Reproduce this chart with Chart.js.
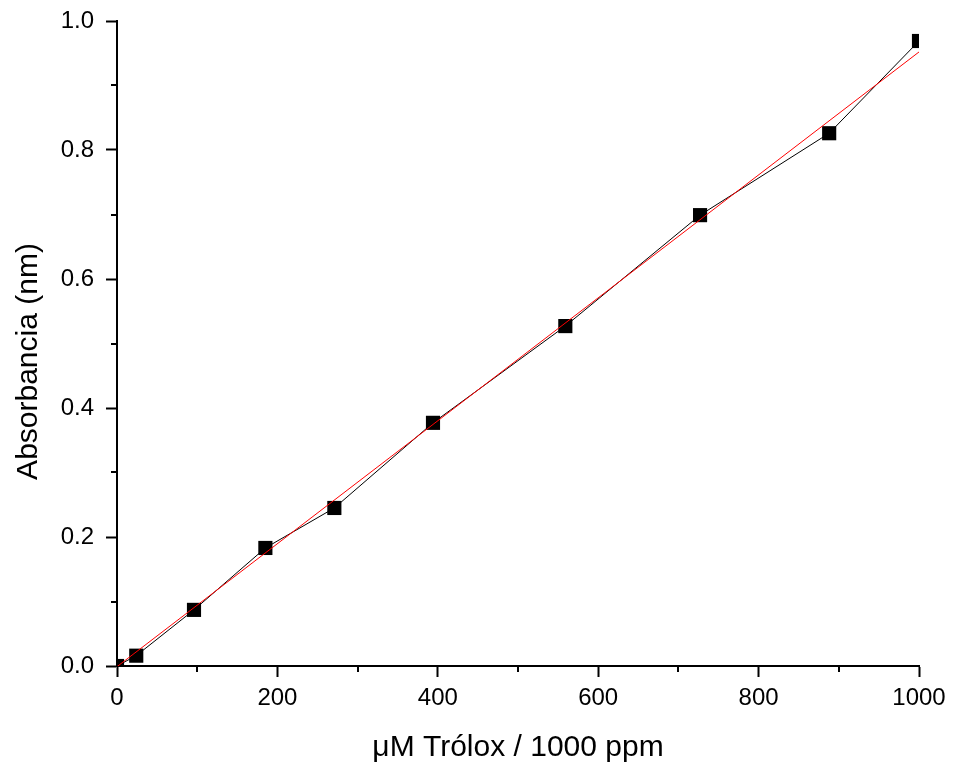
<!DOCTYPE html>
<html lang="es">

<head>
  <meta charset="UTF-8">
  <title>Curva de calibración Trólox</title>
  <script src="https://cdn.jsdelivr.net/npm/chart.js"></script>
  <style>
    body {
      margin: 0;
      background: #fff;
    }
  </style>
</head>

<body>
  <canvas id="chartTrolox" width="953" height="770"></canvas>

  <script>
    // Datos
    var concentraciones = [0, 24, 96, 185, 271, 394, 559, 727, 888, 1000];
    var absorbancias = [0.0, 0.016, 0.087, 0.183, 0.245, 0.377, 0.527, 0.699, 0.826, 0.969];

    // Recta de ajuste (extremos)
    var ajusteX = [0, 1000];
    var ajusteY = [-0.001, 0.952];

    var ticksX = [0, 200, 400, 600, 800, 1000];
    var ticksY = [0.0, 0.2, 0.4, 0.6, 0.8, 1.0];
    var menoresX = [100, 300, 500, 700, 900];
    var menoresY = [0.1, 0.3, 0.5, 0.7, 0.9];

    var tituloY = 'Absorbancia (nm)';
    var fuente = "'Liberation Sans', Arial, sans-serif";

    function aPuntos(xs, ys) {
      var puntos = [];
      for (var i = 0; i < xs.length; i++) {
        puntos.push({ x: xs[i], y: ys[i] });
      }
      return puntos;
    }

    // marcas menores (más cortas) y título del eje Y
    var extrasEjes = {
      id: 'extrasEjes',
      afterDraw: function (chart) {
        var ctx = chart.ctx;
        var area = chart.chartArea;
        var sx = chart.scales.x;
        var sy = chart.scales.y;
        ctx.save();
        ctx.strokeStyle = '#000';
        ctx.lineWidth = 2;
        ctx.beginPath();
        for (var i = 0; i < menoresX.length; i++) {
          var px = Math.round(sx.getPixelForValue(menoresX[i]));
          ctx.moveTo(px, area.bottom);
          ctx.lineTo(px, area.bottom + 6);
        }
        for (var j = 0; j < menoresY.length; j++) {
          var py = Math.round(sy.getPixelForValue(menoresY[j]));
          ctx.moveTo(area.left, py);
          ctx.lineTo(area.left - 6, py);
        }
        ctx.stroke();

        // título vertical, un poco más abajo que el centro del área
        ctx.translate(37, (area.top + area.bottom) / 2 + 18);
        ctx.rotate(-Math.PI / 2);
        ctx.fillStyle = '#000';
        ctx.font = '30px ' + fuente;
        ctx.textAlign = 'center';
        ctx.textBaseline = 'alphabetic';
        ctx.fillText(tituloY, 0, 0);
        ctx.restore();
      }
    };

    var grafico = new Chart(document.getElementById('chartTrolox'), {
      type: 'scatter',
      data: {
        datasets: [{
          label: 'Datos',
          data: aPuntos(concentraciones, absorbancias),
          showLine: true,
          borderColor: '#000',
          borderWidth: 1,
          backgroundColor: '#000',
          pointStyle: 'rect',
          pointRadius: 10,
          pointBorderWidth: 0,
          order: 2
        }, {
          label: 'Ajuste',
          data: aPuntos(ajusteX, ajusteY),
          showLine: true,
          borderColor: '#ff0000',
          borderWidth: 1,
          pointRadius: 0,
          order: 1
        }]
      },
      options: {
        responsive: false,
        animation: false,
        layout: {
          padding: { top: 21, right: 34, left: 0, bottom: 0 }
        },
        plugins: {
          legend: { display: false },
          tooltip: { enabled: false }
        },
        scales: {
          x: {
            type: 'linear',
            min: 0,
            max: 1000,
            afterFit: function (s) {
              s.height = 104;
              s.paddingLeft = 0;
              s.paddingRight = 0;
            },
            afterBuildTicks: function (s) {
              s.ticks = ticksX.map(function (v) { return { value: v }; });
            },
            border: { display: true, color: '#000', width: 2 },
            grid: {
              drawOnChartArea: false,
              drawTicks: true,
              tickLength: 11,
              tickWidth: 2,
              tickColor: '#000'
            },
            ticks: {
              color: '#000',
              padding: 7,
              maxRotation: 0,
              autoSkip: false,
              font: { family: fuente, size: 24 },
              callback: function (v) { return String(v); }
            },
            title: {
              display: true,
              text: 'μM Trólox / 1000 ppm',
              color: '#000',
              padding: { top: 0, bottom: 4 },
              font: { family: fuente, size: 30 }
            }
          },
          y: {
            type: 'linear',
            min: 0,
            max: 1,
            afterFit: function (s) {
              s.width = 117;
              s.paddingTop = 0;
              s.paddingBottom = 0;
            },
            afterBuildTicks: function (s) {
              s.ticks = ticksY.map(function (v) { return { value: v }; });
            },
            border: { display: true, color: '#000', width: 2 },
            grid: {
              drawOnChartArea: false,
              drawTicks: true,
              tickLength: 11,
              tickWidth: 2,
              tickColor: '#000'
            },
            ticks: {
              color: '#000',
              padding: 12,
              autoSkip: false,
              font: { family: fuente, size: 24 },
              callback: function (v) { return Number(v).toFixed(1); }
            }
          }
        }
      },
      plugins: [extrasEjes]
    });
  </script>
</body>

</html>
